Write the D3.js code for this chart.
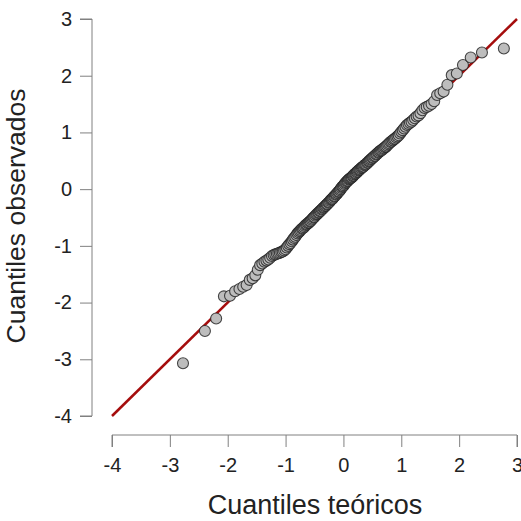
<!DOCTYPE html>
<html>
<head>
<meta charset="utf-8">
<script src="https://cdn.jsdelivr.net/npm/d3@7"></script>
<style>
  body { margin: 0; background: #fff; }
  svg { display: block; font-family: "Liberation Sans", Arial, sans-serif; }
</style>
</head>
<body>
<svg id="qq" width="521" height="521"></svg>
<script>
// cuantiles teóricos (n = 180), mitad inferior; la superior es simétrica
const teoricosBajos = [
  -2.773, -2.394, -2.200, -2.066, -1.960, -1.872, -1.797, -1.732, -1.673, -1.619,
  -1.569, -1.523, -1.480, -1.440, -1.402, -1.365, -1.331, -1.298, -1.266, -1.235,
  -1.206, -1.178, -1.150, -1.124, -1.098, -1.073, -1.049, -1.025, -1.001, -0.979,
  -0.956, -0.935, -0.913, -0.892, -0.872, -0.852, -0.832, -0.812, -0.793, -0.774,
  -0.755, -0.737, -0.719, -0.701, -0.683, -0.666, -0.648, -0.631, -0.614, -0.598,
  -0.581, -0.565, -0.549, -0.532, -0.516, -0.501, -0.485, -0.469, -0.454, -0.438,
  -0.423, -0.408, -0.393, -0.377, -0.362, -0.348, -0.333, -0.319, -0.304, -0.289,
  -0.275, -0.260, -0.246, -0.232, -0.217, -0.203, -0.189, -0.175, -0.161, -0.147,
  -0.133, -0.119, -0.105, -0.091, -0.077, -0.063, -0.049, -0.035, -0.021, -0.007
];
const teoricosAltos = [
  0.007, 0.021, 0.035, 0.049, 0.063, 0.077, 0.091, 0.105, 0.119, 0.133,
  0.147, 0.161, 0.175, 0.189, 0.203, 0.217, 0.232, 0.246, 0.260, 0.275,
  0.289, 0.304, 0.319, 0.333, 0.348, 0.362, 0.377, 0.393, 0.408, 0.423,
  0.438, 0.454, 0.469, 0.485, 0.501, 0.516, 0.532, 0.549, 0.565, 0.581,
  0.598, 0.614, 0.631, 0.648, 0.666, 0.683, 0.701, 0.719, 0.737, 0.755,
  0.774, 0.793, 0.812, 0.832, 0.852, 0.872, 0.892, 0.913, 0.935, 0.956,
  0.979, 1.001, 1.025, 1.049, 1.073, 1.098, 1.124, 1.150, 1.178, 1.206,
  1.235, 1.266, 1.298, 1.331, 1.365, 1.402, 1.440, 1.480, 1.523, 1.569,
  1.619, 1.673, 1.732, 1.797, 1.872, 1.960, 2.066, 2.200, 2.394, 2.773
];

// cuantiles observados (ordenados)
const observadosBajos = [
  -3.07, -2.50, -2.28, -1.89, -1.88, -1.80, -1.76, -1.72, -1.69, -1.60,
  -1.57, -1.52, -1.42, -1.34, -1.31, -1.28, -1.26, -1.24, -1.21, -1.18,
  -1.16, -1.15, -1.14, -1.13, -1.12, -1.11, -1.10, -1.08, -1.06, -1.03,
  -1.00, -0.97, -0.95, -0.92, -0.89, -0.86, -0.84, -0.81, -0.78, -0.76,
  -0.74, -0.72, -0.70, -0.69, -0.67, -0.65, -0.63, -0.62, -0.60, -0.59,
  -0.57, -0.56, -0.54, -0.52, -0.50, -0.49, -0.47, -0.45, -0.44, -0.42,
  -0.41, -0.39, -0.38, -0.36, -0.35, -0.33, -0.32, -0.30, -0.29, -0.27,
  -0.26, -0.24, -0.23, -0.21, -0.19, -0.18, -0.17, -0.15, -0.13, -0.12,
  -0.10, -0.09, -0.07, -0.05, -0.04, -0.02, 0.00, 0.02, 0.04, 0.05
];
const observadosAltos = [
  0.07, 0.09, 0.11, 0.12, 0.14, 0.15, 0.17, 0.18, 0.19, 0.20,
  0.21, 0.23, 0.24, 0.26, 0.27, 0.28, 0.30, 0.31, 0.33, 0.34,
  0.35, 0.37, 0.38, 0.39, 0.40, 0.42, 0.43, 0.44, 0.46, 0.47,
  0.49, 0.50, 0.52, 0.53, 0.55, 0.56, 0.58, 0.59, 0.61, 0.62,
  0.64, 0.65, 0.67, 0.68, 0.69, 0.71, 0.72, 0.74, 0.75, 0.77,
  0.79, 0.81, 0.83, 0.84, 0.86, 0.88, 0.89, 0.91, 0.93, 0.95,
  0.98, 1.01, 1.04, 1.07, 1.10, 1.13, 1.15, 1.17, 1.19, 1.22,
  1.25, 1.28, 1.30, 1.34, 1.39, 1.43, 1.45, 1.47, 1.50, 1.55,
  1.66, 1.69, 1.72, 1.84, 2.01, 2.04, 2.19, 2.32, 2.41, 2.48
];

const ticksX = [-4, -3, -2, -1, 0, 1, 2, 3];
const ticksY = [-4, -3, -2, -1, 0, 1, 2, 3];
const linea = [-4, 3]; // recta y = x

const teoricos = teoricosBajos.concat(teoricosAltos);
const observados = observadosBajos.concat(observadosAltos);
const puntos = teoricos.map((t, i) => ({ t, o: observados[i] }));

const svg = d3.select("#qq");

const x = d3.scaleLinear().domain([-4, 3]).range([112, 517]);
const y = d3.scaleLinear().domain([-4, 3]).range([416, 19]);

const gris = "#808080";
const etiqueta = d => d < 0 ? "-" + Math.abs(d) : d;

// eje x
const ax = svg.append("g")
  .attr("transform", "translate(0,435)")
  .call(d3.axisBottom(x).tickValues(ticksX).tickSize(12).tickPadding(11));
ax.select(".domain").attr("stroke", gris).attr("d", `M${x(-4)},12V0H${x(3)}V12`);
ax.selectAll(".tick line").attr("stroke", gris);
ax.selectAll(".tick text").attr("font-size", 20).attr("fill", "#222").text(etiqueta);

// eje y
const ay = svg.append("g")
  .attr("transform", "translate(92,0)")
  .call(d3.axisLeft(y).tickValues(ticksY).tickSize(12).tickPadding(8));
ay.select(".domain").attr("stroke", gris).attr("d", `M-12,${y(3)}H0V${y(-4)}H-12`);
ay.selectAll(".tick line").attr("stroke", gris);
ay.selectAll(".tick text").attr("font-size", 20).attr("fill", "#222").text(etiqueta);

// recta de referencia
svg.append("line")
  .attr("x1", x(linea[0])).attr("y1", y(linea[0]))
  .attr("x2", x(linea[1])).attr("y2", y(linea[1]))
  .attr("stroke", "#a50d0d")
  .attr("stroke-width", 2.5);

// puntos
svg.append("g")
  .selectAll("circle")
  .data(puntos)
  .join("circle")
  .attr("cx", d => x(d.t))
  .attr("cy", d => y(d.o))
  .attr("r", 5.5)
  .attr("fill", "#bdbdbd")
  .attr("stroke", "rgba(30,30,30,0.8)")
  .attr("stroke-width", 1.1);

// títulos
svg.append("text")
  .attr("x", 315).attr("y", 514)
  .attr("text-anchor", "middle")
  .attr("font-size", 27)
  .attr("fill", "#222")
  .text("Cuantiles teóricos");

svg.append("text")
  .attr("transform", "translate(25,216) rotate(-90)")
  .attr("text-anchor", "middle")
  .attr("font-size", 26.5)
  .attr("fill", "#222")
  .text("Cuantiles observados");
</script>
</body>
</html>
